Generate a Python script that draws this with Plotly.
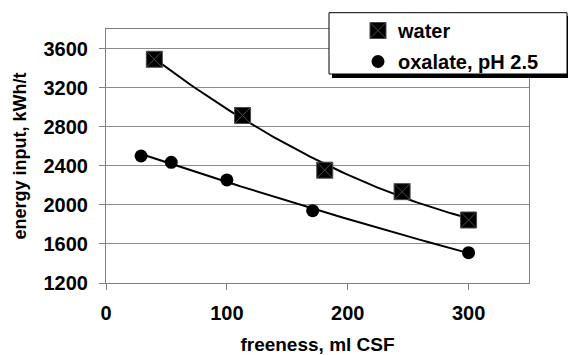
import numpy as np
import plotly.graph_objects as go

# ---- data ----
water_x = [40, 113, 181, 245, 300]
water_y = [3490, 2915, 2355, 2135, 1845]
oxal_x = [29, 54, 100, 171, 300]
oxal_y = [2500, 2435, 2255, 1940, 1510]
series_names = ["water", "oxalate, pH 2.5"]
x_ticks = [0, 100, 200, 300]
y_ticks = [1200, 1600, 2000, 2400, 2800, 3200, 3600]

W, H = 568, 355
ML, MR, MT, MB = 106, 39, 29, 72
PW, PH = W - ML - MR, H - MT - MB

FONT = "Liberation Sans, Arial, sans-serif"


def trend(xs, ys):
    # polynomial (order 2) trendline fitted to the data, as in the source chart
    c = np.polyfit(xs, ys, 2)
    xx = np.linspace(min(xs), max(xs), 80)
    return xx, np.polyval(c, xx)


fig = go.Figure()

wx, wy = trend(water_x, water_y)
ox, oy = trend(oxal_x, oxal_y)
fig.add_trace(go.Scatter(x=wx, y=wy, mode="lines", line=dict(color="black", width=2),
                         showlegend=False, hoverinfo="skip"))
fig.add_trace(go.Scatter(x=ox, y=oy, mode="lines", line=dict(color="black", width=2),
                         showlegend=False, hoverinfo="skip"))
fig.add_trace(go.Scatter(x=water_x, y=water_y, mode="markers", name=series_names[0],
                         legendgroup="a",
                         marker=dict(symbol="square-x", size=16, color="black",
                                     line=dict(color="#4a4a4a", width=1))))
fig.add_trace(go.Scatter(x=oxal_x, y=oxal_y, mode="markers", name=series_names[1],
                         legendgroup="b",
                         marker=dict(symbol="circle", size=13, color="black",
                                     line=dict(width=0))))


def px_x(p):
    return (p - ML) / PW


def px_y(p):
    return (H - MB - p) / PH


# legend shadow and box (drawn as shapes, legend itself is transparent)
fig.add_shape(type="rect", xref="paper", yref="paper",
              x0=px_x(332), x1=px_x(571), y0=px_y(78), y1=px_y(16),
              fillcolor="black", line=dict(width=0), layer="above")
fig.add_shape(type="rect", xref="paper", yref="paper",
              x0=px_x(329), x1=px_x(567), y0=px_y(74), y1=px_y(12.7),
              fillcolor="white", line=dict(color="black", width=1), layer="above")

fig.update_layout(
    width=W, height=H,
    margin=dict(l=ML, r=MR, t=MT, b=MB, autoexpand=False),
    paper_bgcolor="white", plot_bgcolor="white",
    font=dict(family=FONT, color="black"),
    legend=dict(
        x=px_x(332), y=px_y(11), xanchor="left", yanchor="top",
        bgcolor="rgba(0,0,0,0)", borderwidth=0,
        font=dict(family=FONT, size=20, weight="bold", color="black"),
        indentation=26, tracegroupgap=2,
    ),
    xaxis=dict(
        range=[0, 350], tickvals=x_ticks, ticks="outside", ticklen=6,
        tickcolor="#808080", showgrid=False, zeroline=False,
        showline=True, linecolor="#808080", linewidth=1, mirror=True,
        tickfont=dict(family=FONT, size=20, weight="bold"),
        ticklabelstandoff=6,
        title=dict(text="freeness, ml CSF", standoff=18,
                   font=dict(family=FONT, size=19, weight="bold")),
    ),
    yaxis=dict(
        range=[1200, 3800], tickvals=y_ticks, ticks="outside", ticklen=6,
        tickcolor="#808080", showgrid=True, gridcolor="#8c8c8c", gridwidth=1,
        zeroline=False, showline=True, linecolor="#808080", linewidth=1, mirror=True,
        tickfont=dict(family=FONT, size=20, weight="bold"),
        ticklabelstandoff=7,
        title=dict(text="energy input, kWh/t", standoff=12,
                   font=dict(family=FONT, size=18, weight="bold")),
    ),
)

fig.write_html("out.html", config={"displayModeBar": False},
               post_script="document.body.style.margin='0';document.body.style.overflow='hidden';")
